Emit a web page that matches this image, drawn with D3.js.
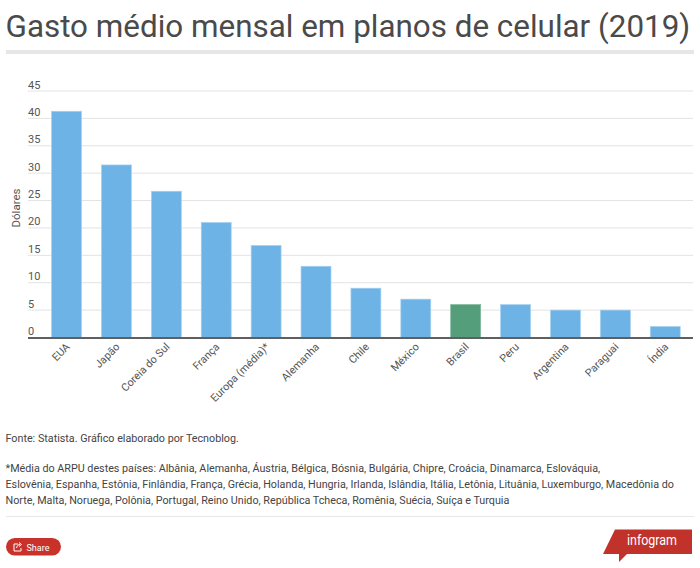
<!DOCTYPE html>
<html>
<head>
<meta charset="utf-8">
<script src="https://cdn.jsdelivr.net/npm/d3@7"></script>
<style>
    html, body { margin: 0; padding: 0; background: #fff; }
    svg { display: block; font-family: Roboto, sans-serif; }
</style>
</head>
<body>
<svg id="chart" width="700" height="568"></svg>
<script>
const countries = ["EUA", "Japão", "Coreia do Sul", "França", "Europa (média)*", "Alemanha", "Chile", "México", "Brasil", "Peru", "Argentina", "Paraguai", "Índia"];
const spending = [41.3, 31.5, 26.7, 21, 16.8, 13, 9, 7, 6, 6, 5, 5, 2];
const yTicks = [0, 5, 10, 15, 20, 25, 30, 35, 40, 45];
const footnotes = [
    "Fonte: Statista. Gráfico elaborado por Tecnoblog.",
    "*Média do ARPU destes países: Albânia, Alemanha, Áustria, Bélgica, Bósnia, Bulgária, Chipre, Croácia, Dinamarca, Eslováquia,",
    "Eslovênia, Espanha, Estônia, Finlândia, França, Grécia, Holanda, Hungria, Irlanda, Islândia, Itália, Letônia, Lituânia, Luxemburgo, Macedônia do",
    "Norte, Malta, Noruega, Polônia, Portugal, Reino Unido, República Tcheca, Romênia, Suécia, Suíça e Turquia"
];
const footnoteY = [442, 472, 488, 504];

const svg = d3.select("#chart");

const x = d3.scaleBand().domain(countries).range([41.6, 690.2]).paddingInner(0.4).paddingOuter(0.2);
const y = d3.scaleLinear().domain([0, 45]).range([337.5, 91]);

// title
svg.append("text")
    .attr("x", 5.5).attr("y", 37)
    .attr("font-size", 31.4)
    .attr("fill", "#4a4a4a")
    .text("Gasto médio mensal em planos de celular (2019)");

svg.append("rect")
    .attr("x", 6).attr("y", 50).attr("width", 688).attr("height", 4)
    .attr("fill", "#e6e6e6");

// grid lines and y labels
const yTick = svg.append("g").selectAll("g")
    .data(yTicks)
    .join("g");

yTick.filter(d => d > 0).append("line")
    .attr("x1", 28).attr("x2", 693)
    .attr("y1", d => y(d)).attr("y2", d => y(d))
    .attr("stroke", "#e3e3e3");

yTick.append("text")
    .attr("x", 28)
    .attr("y", d => y(d) - 2.5)
    .attr("font-size", 11)
    .attr("fill", "#555")
    .text(d => d);

svg.append("text")
    .attr("transform", "translate(20,208) rotate(-90)")
    .attr("text-anchor", "middle")
    .attr("font-size", 11.5)
    .attr("fill", "#555")
    .text("Dólares");

// bars
svg.append("g").selectAll("rect")
    .data(countries)
    .join("rect")
    .attr("x", d => x(d))
    .attr("width", x.bandwidth())
    .attr("y", (d, i) => y(spending[i]))
    .attr("height", (d, i) => y(0) - y(spending[i]))
    .attr("fill", d => d === "Brasil" ? "#549e7b" : "#6db3e6")
    .attr("stroke", d => d === "Brasil" ? "#7cb89a" : "#a5d0f0")
    .attr("stroke-width", 0.7);

// axis
svg.append("line")
    .attr("x1", 28).attr("x2", 693)
    .attr("y1", 338).attr("y2", 338)
    .attr("stroke", "#5f5f5f")
    .attr("stroke-width", 2);

svg.append("g").selectAll("text")
    .data(countries)
    .join("text")
    .attr("transform", d => `translate(${x(d) + x.bandwidth() / 2 + 4},${347.5}) rotate(-45)`)
    .attr("text-anchor", "end")
    .attr("font-size", 10.75)
    .attr("fill", "#555")
    .text(d => d);

// footer
svg.append("g").selectAll("text")
    .data(footnotes)
    .join("text")
    .attr("x", 5.5)
    .attr("y", (d, i) => footnoteY[i])
    .attr("font-size", 10.75)
    .attr("fill", "#444")
    .text(d => d);

svg.append("line")
    .attr("x1", 6).attr("x2", 694)
    .attr("y1", 516.5).attr("y2", 516.5)
    .attr("stroke", "#e8e8e8");

// share button
svg.append("rect")
    .attr("x", 6).attr("y", 538).attr("width", 55).attr("height", 17.5).attr("rx", 8.75)
    .attr("fill", "#c8322a");

const shareIcon = svg.append("g")
    .attr("fill", "none").attr("stroke", "#fff").attr("stroke-width", 1);
shareIcon.append("path").attr("d", "M18 544 H14 V551 H21 V548");
shareIcon.append("path").attr("d", "M16.5 548 C17 545.5 18.5 544.5 20 544.5 M19 542.5 L21.5 544.5 L19 546.5");

svg.append("text")
    .attr("x", 26.5).attr("y", 550.5)
    .attr("font-size", 9)
    .attr("fill", "#fff")
    .text("Share");

// infogram badge
svg.append("path")
    .attr("d", "M615 529.5 H692 V554 H627 L619 562 L619 554 H603 Z")
    .attr("fill", "#c0322a");

svg.append("text")
    .attr("x", 627).attr("y", 545)
    .attr("font-size", 14)
    .attr("fill", "#fff")
    .attr("textLength", 50)
    .attr("lengthAdjust", "spacingAndGlyphs")
    .text("infogram");
</script>
</body>
</html>
